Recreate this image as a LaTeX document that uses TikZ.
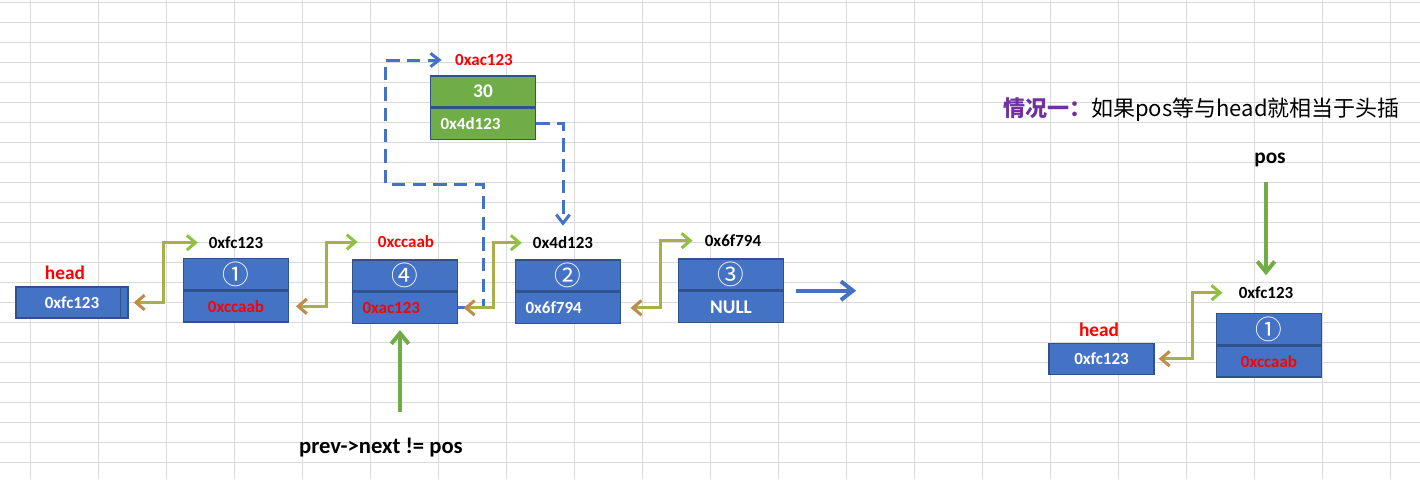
\documentclass[tikz,border=0pt]{standalone}
\usepackage{fontspec}
\setmainfont{Carlito}
\newfontfamily\zhfont{Noto Sans CJK SC}
\usetikzlibrary{arrows.meta}
\usetikzlibrary{positioning}

\definecolor{boxblue}{HTML}{4472C4}
\definecolor{boxedge}{HTML}{2F528F}
\definecolor{boxgreen}{HTML}{70AD47}
\definecolor{linkolive}{HTML}{A8AE48}
\definecolor{tipbrown}{HTML}{C08A48}
\definecolor{tipgreen}{HTML}{8CC43F}
\definecolor{caseviolet}{HTML}{7030A0}
\definecolor{gridgray}{HTML}{DADADA}

\begin{document}
\begin{tikzpicture}[x=0.75pt,y=-0.75pt,
  cell/.style={draw=boxedge,line width=1pt,fill=boxblue,minimum width=78.75pt,minimum height=23.25pt,inner sep=0pt,text=white},
  numcell/.style={cell,font=\zhfont\fontsize{20}{20}\selectfont},
  leftcell/.style={cell,text width=63.75pt,align=left},
  hexfont/.style={font=\bfseries\fontsize{12.75}{14}\selectfont},
  hex/.style={hexfont,inner sep=2pt},
  tag/.style={font=\bfseries\fontsize{14.5}{16}\selectfont,inner sep=2pt},
  link/.style={linkolive,line width=2.25pt,{Straight Barb[color=tipbrown,length=6.5pt,width=11pt]}-{Straight Barb[color=tipgreen,length=6.5pt,width=11pt]}},
  ptr/.style={boxblue,line width=2.25pt,dash pattern=on 10pt off 5.5pt,-{Straight Barb[length=6.5pt,width=10pt]}},
  posarrow/.style={boxgreen,line width=3pt,-{Straight Barb[length=8pt,width=13pt]}},
  nullarrow/.style={boxblue,line width=3pt,-{Straight Barb[length=9pt,width=14pt]}}]
\fill[white] (0,0) rectangle (1420,479);
\useasboundingbox (0,0) rectangle (1420,479);
% sheet grid
\foreach \gx in {0,...,20}
  \draw[gridgray,line width=0.75pt] ({30+68*\gx},0) -- ({30+68*\gx},479);
\foreach \gy in {0,...,23}
  \draw[gridgray,line width=0.75pt] (0,{2.7+20*\gy}) -- (1420,{2.7+20*\gy});

% list
\node[cell,hexfont,minimum width=84pt] (hd) at (72,302.5) {0xfc123};
\draw[boxedge,line width=1pt] ([xshift=-6pt]hd.north east) -- ([xshift=-6pt]hd.south east);
\node[tag,text=red] (hl) at (65,273) {head};

\node[numcell] (n1a) at (236,274) {①};
\node[cell,hexfont,text=red,below=0pt of n1a] (n1b) {0xccaab};
\node[hex] (l1) at (236,242.7) {0xfc123};

\node[numcell] (n4a) at (405,275.5) {④};
\node[leftcell,hexfont,text=red,below=0pt of n4a] (n4b) {0xac123};
\node[hex,text=red] (l4) at (406,242) {0xccaab};

\node[numcell] (n2a) at (568,275.5) {②};
\node[leftcell,hexfont,below=0pt of n2a] (n2b) {0x6f794};
\node[hex] (l2) at (563,242.7) {0x4d123};

\node[numcell] (n3a) at (731,274.5) {③};
\node[cell,tag,inner sep=0pt,below=0pt of n3a] (n3b) {NULL};
\node[hex] (l3) at (733,240.7) {0x6f794};
\coordinate (nulltail) at ([xshift=54pt]n3a.south east);

% new node
\node[cell,tag,inner sep=0pt,fill=boxgreen] (ga) at (483,91.5) {30};
\node[leftcell,hexfont,fill=boxgreen,below=0pt of ga] (gb) {0x4d123};
\node[hex,text=red] (lg) at (484,60) {0xac123};

\node[tag,font=\bfseries\fontsize{17}{19}\selectfont] (prv) at (381,448) {prev->next != pos};

% pointers
\draw[ptr] (n4b.east) -- ++(25.5,0) -- ++(0,-123.5) -- ++(-98,0) |- ([xshift=-8pt]lg.west);
\draw[ptr,shorten >=6pt] (gb.east) -| (l2.north);

\draw[link] ([xshift=3.75pt]hd.east) -- ++(30,0) |- ([xshift=-6pt]l1.west);
\draw[link] ([xshift=5pt]n1b.east) -- ++(31,0) |- ([xshift=-13pt]l4.west);
\draw[link] ([xshift=4.1pt]n4b.east) -- ++(30,0) |- ([xshift=-6.2pt]l2.west);
\draw[link] ([xshift=7pt]n2b.east) -- ++(30,0) |- ([xshift=-7pt]l3.west);
\draw[nullarrow] ([xshift=9pt]n3a.south east) -- (nulltail);
\draw[posarrow] ([xshift=14.25pt,yshift=18pt]prv.north) -- ([xshift=-3.75pt,yshift=-4.5pt]n4b.south);

% case one
\node[anchor=west,inner sep=0pt,font=\zhfont\fontsize{16.5}{18}\selectfont] (case) at (1003,110)
  {\textcolor{caseviolet}{\bfseries 情况一：}如果pos等与head就相当于头插};
\node[tag,font=\bfseries\fontsize{16}{18}\selectfont] (pos) at (1270,160) {pos};

\node[numcell] (r1a) at (1269,329) {①};
\node[cell,hexfont,text=red,below=0pt of r1a] (r1b) {0xccaab};
\node[hex] (lr) at (1266,292.7) {0xfc123};
\node[cell,hexfont] (hd2) at (1101.5,358.7) {0xfc123};
\node[tag,text=red] (hl2) at (1099,330) {head};

\draw[link] ([xshift=3pt]hd2.east) -- ++(34,0) |- ([xshift=-10pt]lr.west);
\draw[posarrow,shorten <=9pt,shorten >=6.4pt] (pos.south -| lr.north) -- (lr.north);
\end{tikzpicture}
\end{document}
